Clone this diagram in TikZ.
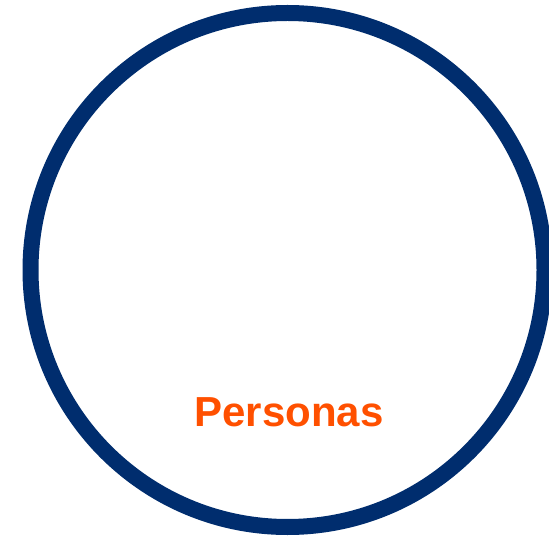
\documentclass[tikz,border=0pt]{standalone}
\usepackage{fontspec}
\setmainfont{Liberation Sans}
\definecolor{ringblue}{HTML}{002D6E}
\definecolor{persorange}{HTML}{FF5000}
\begin{document}
\begin{tikzpicture}[x=1pt,y=-1pt,
  ring/.style={draw=ringblue,line width=16pt},
  label/.style={text=persorange,font=\fontsize{42}{42}\selectfont\bfseries,anchor=base,inner sep=0pt}]
\useasboundingbox (0,0) rectangle (549,537);
\begin{scope}
\clip (0,0) rectangle (549,537);
\node[ring,circle,minimum size=514pt,inner sep=0pt] (ring) at (287.5,270) {};
\end{scope}
\node[label] (personas) at (289,426.5) {Personas};
\end{tikzpicture}
\end{document}
